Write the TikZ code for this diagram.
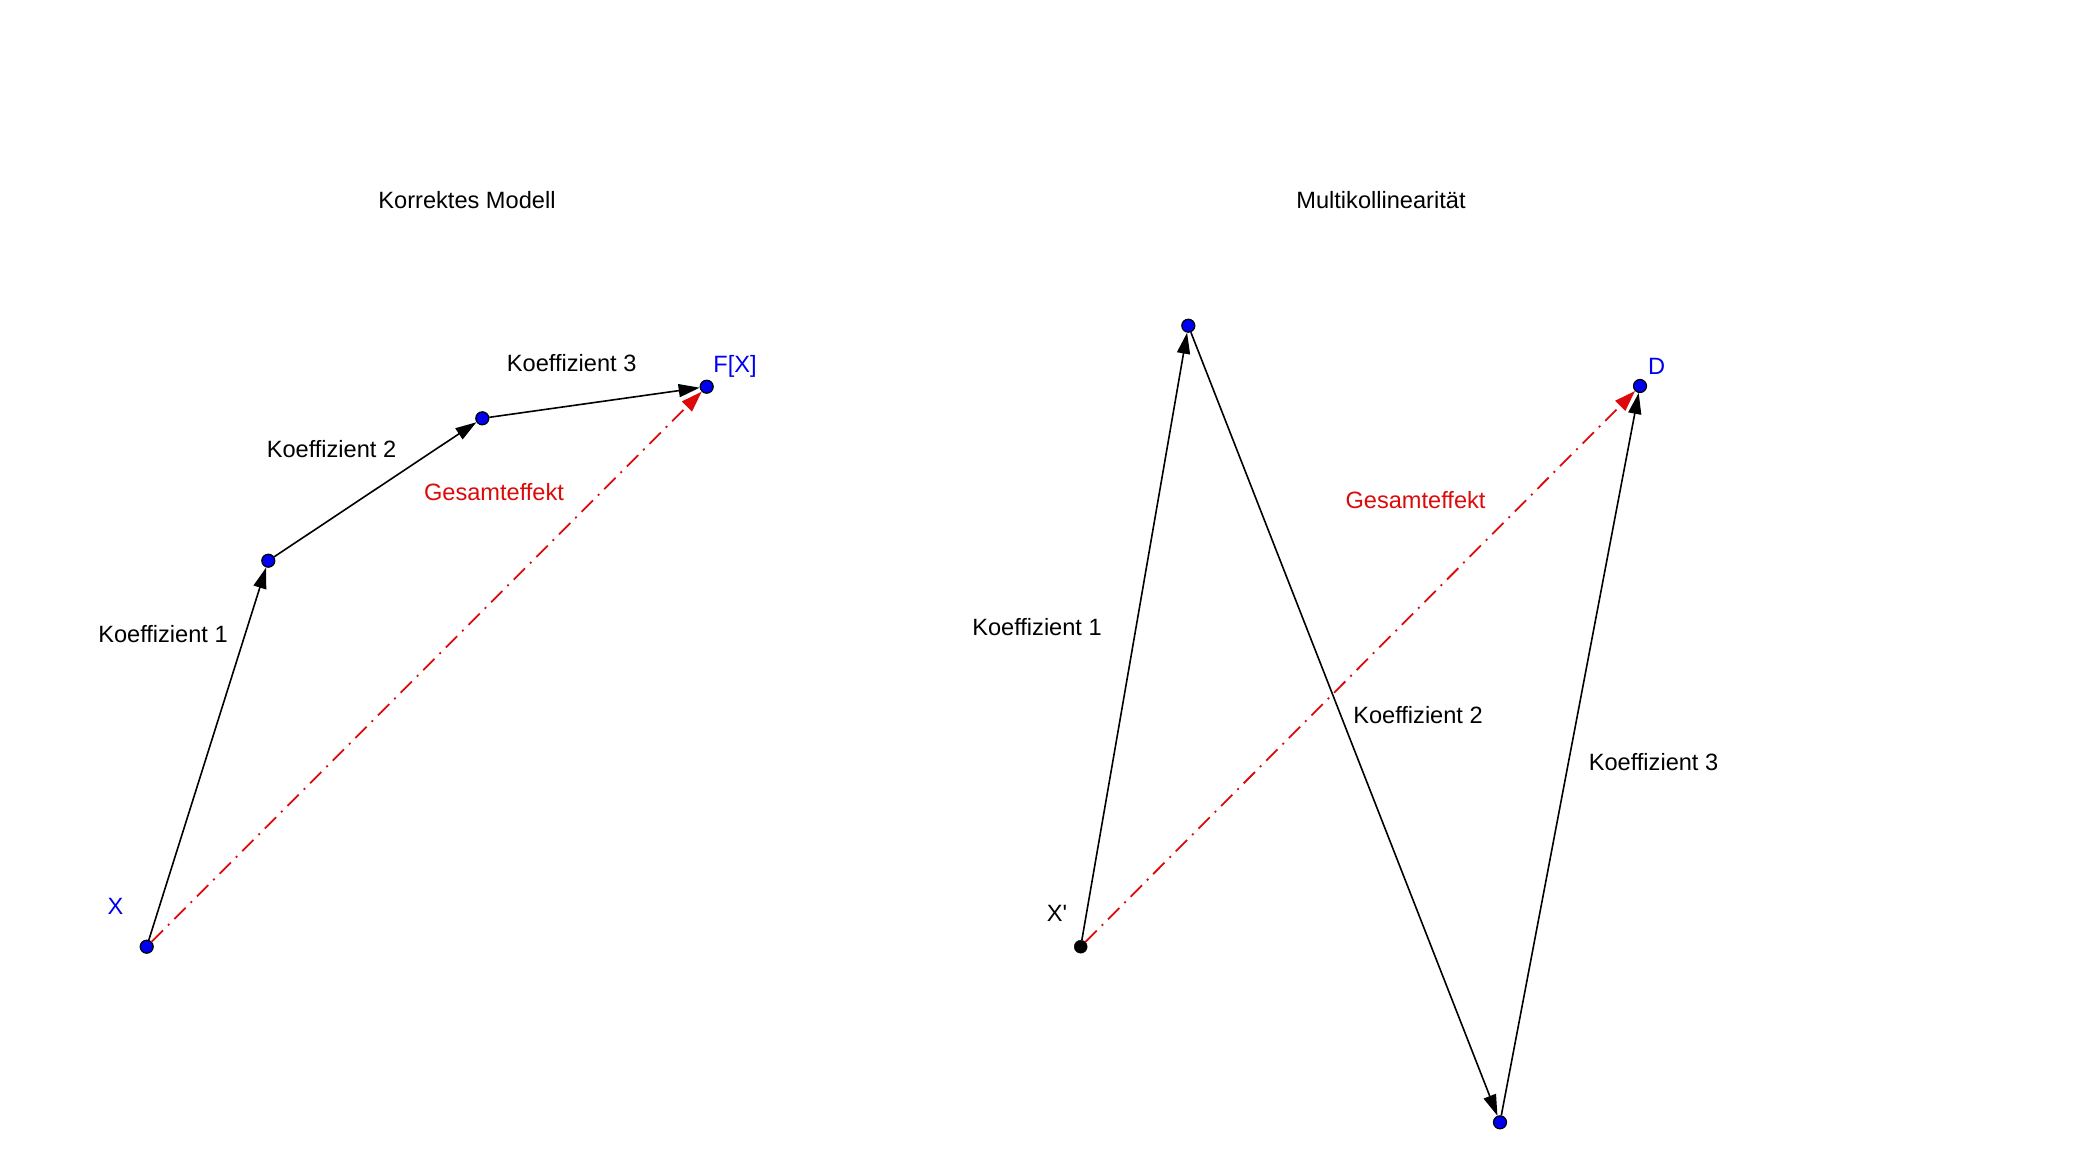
\documentclass[tikz,border=0pt]{standalone}
\usepackage{fontspec}
\setmainfont{Liberation Sans}
\usetikzlibrary{arrows.meta}
\definecolor{ptblue}{RGB}{0,0,240}
\definecolor{effred}{RGB}{220,10,10}
\begin{document}
\begin{tikzpicture}[x=1pt,y=-1pt,
  pt/.style={circle,draw=black,fill=ptblue,line width=1.2pt,inner sep=0pt,minimum size=13pt},
  bpt/.style={circle,draw=black,fill=black,inner sep=0pt,minimum size=13pt},
  vec/.style={draw=black,line width=1.6pt,-{Triangle[length=21pt,width=13pt]}},
  eff/.style={draw=effred,line width=1.8pt,dash pattern=on 16pt off 7pt on 2pt off 7pt,-{Triangle[length=21pt,width=14pt,fill=effred]}},
  lbl/.style={font=\fontsize{23.6}{28}\selectfont,text=black,inner sep=0pt},
  bluelbl/.style={lbl,text=ptblue},
  redlbl/.style={lbl,text=effred}]
\useasboundingbox (0,0) rectangle (2096,1164);
% left diagram
\node[pt] (X) at (146.7,946.7) {};
\node[pt] (P1) at (268.3,560.7) {};
\node[pt] (P2) at (482.3,418.3) {};
\node[pt] (FX) at (706.7,386.7) {};
\draw[eff] (X) -- (FX);
\draw[vec] (X) -- (P1);
\draw[vec] (P1) -- (P2);
\draw[vec] (P2) -- (FX);
\node[lbl] (t1) at (467,200) {Korrektes Modell};
\node[lbl] (lk1) at (163,634) {Koeffizient 1};
\node[lbl] (lk2) at (331.5,449) {Koeffizient 2};
\node[lbl] (lk3) at (571.7,363.5) {Koeffizient 3};
\node[redlbl] (lg) at (494,492) {Gesamteffekt};
\node[bluelbl] (lfx) at (735,366) {F[X]};
\node[bluelbl] (lx) at (115.5,906) {X};
% right diagram
\node[bpt] (Xp) at (1080.7,946.7) {};
\node[pt] (Q1) at (1188.3,325.7) {};
\node[pt] (Q2) at (1500,1122.3) {};
\node[pt] (D) at (1640,386) {};
\draw[eff] (Xp) -- (D);
\draw[vec] (Xp) -- (Q1);
\draw[vec] (Q1) -- (Q2);
\draw[vec] (Q2) -- (D);
\node[lbl] (t2) at (1381,200) {Multikollinearität};
\node[lbl] (rk1) at (1037,627) {Koeffizient 1};
\node[lbl] (rk2) at (1418,715) {Koeffizient 2};
\node[lbl] (rk3) at (1653.5,762) {Koeffizient 3};
\node[redlbl] (rg) at (1415.5,500) {Gesamteffekt};
\node[bluelbl] (ld) at (1656.7,366.5) {D};
\node[lbl] (lxp) at (1057,913.5) {X\textquotesingle};
\end{tikzpicture}
\end{document}
